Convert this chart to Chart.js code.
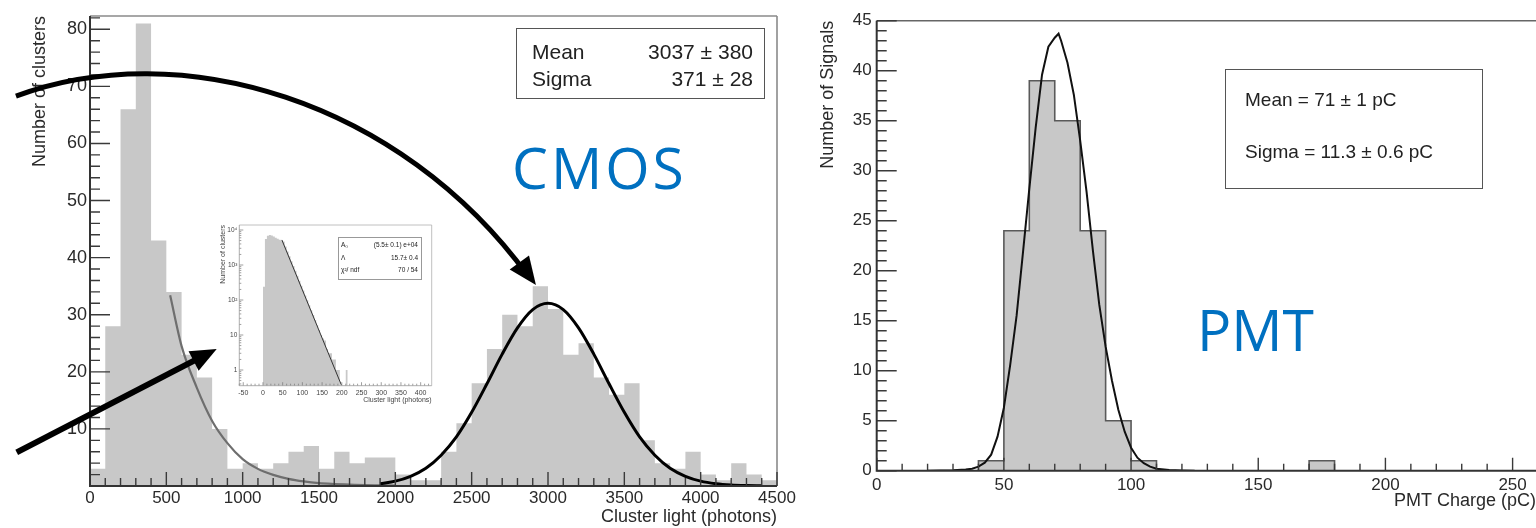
<!DOCTYPE html>
<html lang="en">
<head>
<meta charset="UTF-8">
<title>CMOS and PMT light spectra</title>
<style>
  html, body { margin: 0; padding: 0; background: #fff; }
  body { width: 1536px; height: 528px; position: relative; overflow: hidden;
         font-family: "Liberation Sans", Arial, sans-serif; color: #222; }
  .panel { position: absolute; }
  .box { position: absolute; border: 1.5px solid #555; box-sizing: border-box; }
  .box span { position: absolute; white-space: nowrap; line-height: 1; transform: translateY(-50%); }
  .big { position: absolute; font-family: "Open Sans", sans-serif; font-size: 57px; line-height: 57px; color: #0070c0; }
</style>
<script src="https://cdn.jsdelivr.net/npm/chart.js"></script>
</head>
<body>
<div class="panel" style="left:0;top:0;width:800px;height:528px"><canvas id="cmos"></canvas></div>
<div class="panel" style="left:790px;top:0;width:746px;height:528px"><canvas id="pmt"></canvas></div>
<div class="panel" style="left:195px;top:212px;width:245px;height:200px"><canvas id="inset"></canvas></div>

<div class="box" style="left:516px;top:28px;width:249px;height:71px;font-size:21px">
  <span style="left:15px;top:22px">Mean</span><span style="right:11px;top:22px">3037 ± 380</span>
  <span style="left:15px;top:49px">Sigma</span><span style="right:11px;top:49px">371 ± 28</span>
</div>
<div class="big" style="left:512px;top:139px;letter-spacing:3px">CMOS</div>

<div class="box" style="left:338px;top:237px;width:84px;height:43px;font-size:6.5px;border:0.8px solid #999">
  <span style="left:2px;top:6.5px">A₀</span><span style="right:3px;top:6.5px">(5.5± 0.1) e+04</span>
  <span style="left:2px;top:19.5px">Λ</span><span style="right:3px;top:19.5px">15.7± 0.4</span>
  <span style="left:2px;top:32px">χ²/ ndf</span><span style="right:3px;top:32px">70 / 54</span>
</div>

<div class="box" style="left:1225px;top:69px;width:258px;height:120px;font-size:19px">
  <span style="left:19px;top:29px">Mean = 71 ± 1 pC</span>
  <span style="left:19px;top:81px">Sigma = 11.3 ± 0.6 pC</span>
</div>
<div class="big" style="left:1197px;top:301px">PMT</div>

<script>
// CMOS cluster light histogram (bins of 100 photons)
const cmosBinStart = 0;
const cmosBinWidth = 100;
const cmosCounts = [3, 28, 66, 81, 43, 34, 23, 19, 10, 3,
                    4, 3, 4, 6, 7, 3, 6, 4, 5, 5,
                    2, 1, 1, 6, 11, 18, 24, 30, 28, 35,
                    31, 23, 25, 19, 16, 18, 8, 4, 3, 6,
                    2, 1, 4, 2, 1];
// exponential (noise) fit, grey curve
const cmosExpoX = [525, 600, 700, 800, 900, 1000, 1100, 1200, 1300, 1400, 1500, 1600, 1700, 1800, 1900, 2000];
const cmosExpoY = [33.4, 24.5, 17.2, 11.4, 7.5, 4.7, 3.0, 1.95, 1.25, 0.8, 0.5, 0.35, 0.25, 0.15, 0.1, 0.05];
// gaussian fit, black curve
const cmosGausX = [1900, 2000, 2100, 2200, 2300, 2400, 2500, 2600, 2700, 2800, 2900, 3000, 3100,
                   3200, 3300, 3400, 3500, 3600, 3700, 3800, 3900, 4000, 4100, 4200, 4300, 4400];
const cmosGausY = [0.4, 0.85, 1.7, 3.1, 5.4, 8.6, 12.9, 17.9, 23.1, 27.7, 30.9, 32.0, 30.9,
                   27.7, 23.1, 17.9, 12.9, 8.6, 5.4, 3.1, 1.7, 0.85, 0.4, 0.17, 0.07, 0.03];

// inset: single-photon spectrum, log scale (bins of 5 photons)
const insetBinStart = 0;
const insetBinWidth = 5;
const insetCounts = [240, 5500, 6800, 7200, 7000, 6500, 6000, 5600, 5300, 5000,
                     4700, 3400, 2450, 1780, 1290, 930, 680, 490, 355, 257,
                     186, 135, 98, 71, 51, 37, 27, 19, 14, 10,
                     8, 7, 4, 3, 3, 2, 2, 1, 1, 0, 0, 0, 1];
const insetFitX = [48, 199];
const insetFitY = [5200, 0.37];
const insetYTickValues = [1, 10, 100, 1000, 10000];
const insetYTickLabels = ['1', '10', '10²', '10³', '10⁴'];

// PMT charge histogram (bins of 10 pC, starting at 40 pC)
const pmtBinStart = 40;
const pmtBinWidth = 10;
const pmtCounts = [1, 24, 39, 35, 24, 5, 1, 0, 0, 0, 0, 0, 0, 1];
const pmtFitX = [20, 25, 30, 35, 37.5, 40, 42.5, 45, 47.5, 50, 52.5, 55, 57.5, 60, 62.5, 65, 67.5, 70, 71.5,
                 72.5, 75, 77.5, 80, 82.5, 85, 87.5, 90, 92.5, 95, 97.5, 100, 102.5, 105, 107.5, 110, 115, 120, 125];
const pmtFitY = [0, 0.02, 0.05, 0.12, 0.2, 0.4, 0.8, 1.6, 3.4, 6.3, 10.6, 15.5, 21.8, 28.2, 34.3, 39.6, 42.4, 43.3, 43.7,
                 43.0, 40.8, 37.6, 33.0, 27.9, 22.0, 16.6, 12.4, 9.0, 6.1, 3.9, 2.3, 1.3, 0.75, 0.4, 0.2, 0.06, 0.02, 0];

// annotation arrows, in CMOS data units (bezier control points, then tip)
const arcArrowPath = [[-485, 68.3], [590, 79.0], [2030, 67.6], [2869, 36.8]];
const arcArrowTip = [2921, 35.2];
const lineArrow = [[-480, 5.9], [830, 24.0]];

const FONT = '"Liberation Sans", Arial, sans-serif';
const TXT = '#2a2a2a';

function histPoints(start, width, counts, floor = 0) {
  const pts = [{x: start, y: floor}];
  counts.forEach((c, i) => pts.push({x: start + i * width, y: Math.max(c, floor)}));
  pts.push({x: start + counts.length * width, y: floor});
  return pts;
}
function curvePoints(xs, ys) {
  return xs.map((x, i) => ({x, y: ys[i]}));
}
function keepMultiples(step) {
  return s => { s.ticks = s.ticks.filter(t => Math.abs(t.value / step - Math.round(t.value / step)) < 1e-6); };
}
function steps(min, max, step) {
  const out = [];
  for (let k = Math.ceil(min / step - 1e-9); k * step <= max + 1e-9; k++) out.push(k * step);
  return out;
}
const plain = v => String(v);

// ROOT style axes: frame + ticks pointing into the plot
const rootAxes = {
  id: 'rootAxes',
  afterDatasetsDraw(chart, args, o) {
    const {ctx, chartArea: a, scales: {x, y}} = chart;
    ctx.save();
    ctx.lineCap = 'butt';
    ctx.strokeStyle = o.frameColor;
    ctx.lineWidth = o.frameWidth;
    ctx.beginPath();
    ctx.moveTo(a.left, a.top); ctx.lineTo(a.right, a.top);
    if (o.frameRight) { ctx.moveTo(a.right, a.top); ctx.lineTo(a.right, a.bottom); }
    ctx.stroke();

    ctx.strokeStyle = o.tickColor;
    ctx.lineWidth = o.tickWidth;
    ctx.beginPath();
    for (const v of steps(x.min, x.max, o.xMinor)) {
      const major = Math.abs(v / o.xMajor - Math.round(v / o.xMajor)) < 1e-6;
      const px = x.getPixelForValue(v);
      ctx.moveTo(px, a.bottom); ctx.lineTo(px, a.bottom - (major ? o.xMajorLen : o.xMinorLen));
    }
    let yt = [];
    if (o.yLog) {
      for (let e = Math.floor(Math.log10(y.min)); e <= Math.ceil(Math.log10(y.max)); e++) {
        for (let m = 1; m <= 9; m++) {
          const v = m * Math.pow(10, e);
          if (v >= y.min && v <= y.max) yt.push({v, major: m === 1});
        }
      }
    } else {
      yt = steps(y.min, y.max, o.yMinor).map(v => ({v, major: Math.abs(v / o.yMajor - Math.round(v / o.yMajor)) < 1e-6}));
    }
    for (const t of yt) {
      const py = y.getPixelForValue(t.v);
      ctx.moveTo(a.left, py); ctx.lineTo(a.left + (t.major ? o.yMajorLen : o.yMinorLen), py);
    }
    ctx.stroke();

    ctx.strokeStyle = o.axisColor;
    ctx.lineWidth = o.axisWidth;
    ctx.beginPath();
    ctx.moveTo(a.left, a.top); ctx.lineTo(a.left, a.bottom); ctx.lineTo(a.right, a.bottom);
    ctx.stroke();
    ctx.restore();
  }
};

function arrowHead(ctx, from, tip, len, half) {
  const dx = tip[0] - from[0], dy = tip[1] - from[1], d = Math.hypot(dx, dy);
  const ux = dx / d, uy = dy / d;
  const bx = tip[0] - ux * len, by = tip[1] - uy * len;
  ctx.beginPath();
  ctx.moveTo(tip[0], tip[1]);
  ctx.lineTo(bx - uy * half, by + ux * half);
  ctx.lineTo(bx + uy * half, by - ux * half);
  ctx.closePath();
  ctx.fill();
}

const arrows = {
  id: 'arrows',
  afterDraw(chart) {
    const {ctx, scales: {x, y}} = chart;
    const P = p => [x.getPixelForValue(p[0]), y.getPixelForValue(p[1])];
    ctx.save();
    ctx.strokeStyle = '#000';
    ctx.fillStyle = '#000';
    ctx.lineCap = 'butt';
    const [p0, p1, p2, p3] = arcArrowPath.map(P);
    const tip = P(arcArrowTip);
    ctx.lineWidth = 5;
    ctx.beginPath();
    ctx.moveTo(p0[0], p0[1]);
    ctx.bezierCurveTo(p1[0], p1[1], p2[0], p2[1], p3[0], p3[1]);
    ctx.stroke();
    arrowHead(ctx, p2, tip, 28, 12);

    const s = P(lineArrow[0]), t = P(lineArrow[1]);
    const dx = t[0] - s[0], dy = t[1] - s[1], d = Math.hypot(dx, dy);
    ctx.lineWidth = 6;
    ctx.beginPath();
    ctx.moveTo(s[0], s[1]);
    ctx.lineTo(t[0] - dx / d * 20, t[1] - dy / d * 20);
    ctx.stroke();
    arrowHead(ctx, s, t, 26, 11);
    ctx.restore();
  }
};

function baseOptions(pad) {
  return {
    responsive: true,
    maintainAspectRatio: false,
    animation: false,
    events: [],
    layout: {padding: pad},
    elements: {point: {radius: 0}, line: {tension: 0}},
    plugins: {legend: {display: false}, tooltip: {enabled: false}}
  };
}

// ---------- CMOS ----------
const cmosOpts = baseOptions({left: 29.2, top: 16, right: 23, bottom: 0.5});
cmosOpts.plugins.rootAxes = {
  frameColor: '#8a8a8a', frameWidth: 1.6, frameRight: true,
  tickColor: '#3a3a3a', tickWidth: 1.4, axisColor: '#333', axisWidth: 2,
  xMajor: 500, xMinor: 100, xMajorLen: 14, xMinorLen: 8,
  yMajor: 10, yMinor: 2, yMajorLen: 20, yMinorLen: 10
};
cmosOpts.scales = {
  x: {
    type: 'linear', min: 0, max: 4500,
    grid: {display: false, drawTicks: false}, border: {display: false},
    ticks: {stepSize: 500, includeBounds: false, autoSkip: false, padding: 2, color: TXT,
            font: {family: FONT, size: 17}, maxRotation: 0, callback: plain},
    afterBuildTicks: keepMultiples(500),
    afterFit: s => { s.height = 41.5; },
    title: {display: true, text: 'Cluster light (photons)', align: 'end', padding: 0, color: TXT, font: {family: FONT, size: 18}}
  },
  y: {
    type: 'linear', min: 0, max: 82.33,
    grid: {display: false, drawTicks: false}, border: {display: false},
    ticks: {stepSize: 10, includeBounds: false, autoSkip: false, padding: 3, color: TXT,
            font: {family: FONT, size: 18}, callback: v => (v === 0 ? '' : String(v))},
    afterBuildTicks: keepMultiples(10),
    afterFit: s => { s.width = 60.8; },
    title: {display: true, text: 'Number of clusters', align: 'end', padding: 0, color: TXT, font: {family: FONT, size: 18}}
  }
};
new Chart(document.getElementById('cmos'), {
  type: 'scatter',
  data: {
    datasets: [
      {data: curvePoints(cmosGausX, cmosGausY), showLine: true, borderColor: '#000', borderWidth: 3,
       cubicInterpolationMode: 'monotone', order: 0},
      {data: curvePoints(cmosExpoX, cmosExpoY), showLine: true, borderColor: '#6e6e6e', borderWidth: 2.2,
       cubicInterpolationMode: 'monotone', order: 1},
      {data: histPoints(cmosBinStart, cmosBinWidth, cmosCounts), showLine: true, stepped: 'before',
       borderWidth: 0, borderColor: 'rgba(0,0,0,0)', backgroundColor: '#c8c8c8', fill: 'origin', order: 2}
    ]
  },
  options: cmosOpts,
  plugins: [rootAxes, arrows]
});

// ---------- inset ----------
const insetOpts = baseOptions({left: 23.8, top: 13, right: 8.3, bottom: 7.8});
insetOpts.plugins.rootAxes = {
  frameColor: '#b0b0b0', frameWidth: 0.8, frameRight: true,
  tickColor: '#777', tickWidth: 0.7, axisColor: '#999', axisWidth: 0.8,
  xMajor: 50, xMinor: 10, xMajorLen: 3.5, xMinorLen: 2,
  yLog: true, yMajorLen: 4, yMinorLen: 2
};
insetOpts.scales = {
  x: {
    type: 'linear', min: -60, max: 428,
    grid: {display: false, drawTicks: false}, border: {display: false},
    ticks: {stepSize: 50, includeBounds: false, autoSkip: false, padding: 3, color: '#444',
            font: {family: FONT, size: 7}, maxRotation: 0, callback: plain},
    afterBuildTicks: keepMultiples(50),
    afterFit: s => { s.height = 18.5; },
    title: {display: true, text: 'Cluster light (photons)', align: 'end', padding: 0, color: '#444', font: {family: FONT, size: 7}}
  },
  y: {
    type: 'logarithmic', min: 0.356, max: 13900,
    grid: {display: false, drawTicks: false}, border: {display: false},
    ticks: {padding: 2, autoSkip: false, color: '#444', font: {family: FONT, size: 6.5},
            callback: v => insetYTickLabels[insetYTickValues.indexOf(v)] ?? ''},
    afterBuildTicks: s => { s.ticks = insetYTickValues.map(v => ({value: v})); },
    afterFit: s => { s.width = 20.5; },
    title: {display: true, text: 'Number of clusters', align: 'end', padding: 0, color: '#444', font: {family: FONT, size: 7}}
  }
};
new Chart(document.getElementById('inset'), {
  type: 'scatter',
  data: {
    datasets: [
      {data: curvePoints(insetFitX, insetFitY), showLine: true, borderColor: '#333', borderWidth: 1, order: 0},
      {data: histPoints(insetBinStart, insetBinWidth, insetCounts, 0.1), showLine: true, stepped: 'before',
       borderWidth: 0, borderColor: 'rgba(0,0,0,0)', backgroundColor: '#c8c8c8', fill: 'start', order: 1}
    ]
  },
  options: insetOpts,
  plugins: [rootAxes]
});

// ---------- PMT ----------
const pmtOpts = baseOptions({left: 27.2, top: 20.7, right: 0, bottom: 16.5});
pmtOpts.plugins.rootAxes = {
  frameColor: '#666', frameWidth: 1.6, frameRight: false,
  tickColor: '#3a3a3a', tickWidth: 1.4, axisColor: '#333', axisWidth: 2,
  xMajor: 50, xMinor: 10, xMajorLen: 13, xMinorLen: 7,
  yMajor: 5, yMinor: 1, yMajorLen: 20, yMinorLen: 10
};
pmtOpts.scales = {
  x: {
    type: 'linear', min: 0, max: 259.2,
    grid: {display: false, drawTicks: false}, border: {display: false},
    ticks: {stepSize: 50, includeBounds: false, autoSkip: false, padding: 4, color: TXT,
            font: {family: FONT, size: 17}, maxRotation: 0, callback: plain},
    afterBuildTicks: keepMultiples(50),
    afterFit: s => { s.height = 40.8; },
    title: {display: true, text: 'PMT Charge (pC)', align: 'end', padding: 0, color: TXT, font: {family: FONT, size: 18}}
  },
  y: {
    type: 'linear', min: 0, max: 45,
    grid: {display: false, drawTicks: false}, border: {display: false},
    ticks: {stepSize: 5, includeBounds: false, autoSkip: false, padding: 5, color: TXT,
            font: {family: FONT, size: 17}, callback: plain},
    afterBuildTicks: keepMultiples(5),
    afterFit: s => { s.width = 59.5; },
    title: {display: true, text: 'Number of Signals', align: 'end', padding: 0, color: TXT, font: {family: FONT, size: 18}}
  }
};
new Chart(document.getElementById('pmt'), {
  type: 'scatter',
  data: {
    datasets: [
      {data: curvePoints(pmtFitX, pmtFitY), showLine: true, borderColor: '#111', borderWidth: 2, order: 0},
      {data: histPoints(pmtBinStart, pmtBinWidth, pmtCounts), showLine: true, stepped: 'before',
       borderWidth: 1.6, borderColor: '#5a5a5a', backgroundColor: '#c8c8c8', fill: 'origin', order: 1}
    ]
  },
  options: pmtOpts,
  plugins: [rootAxes]
});
</script>
</body>
</html>
